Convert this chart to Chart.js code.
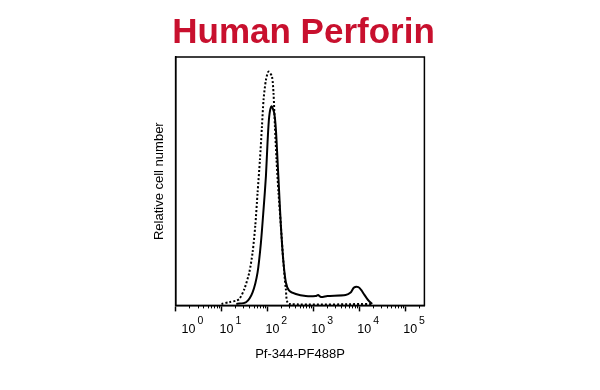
<!DOCTYPE html>
<html>
<head>
<meta charset="utf-8">
<script src="https://cdn.jsdelivr.net/npm/chart.js@4"></script>
<style>
  html, body { margin: 0; padding: 0; background: #fff; }
  #wrap { width: 600px; height: 390px; }
</style>
</head>
<body>
<div id="wrap"><canvas id="graph"></canvas></div>
<script>
// isotype control (dotted)
const controlX = [10.0, 14.8, 20.7, 24.5, 31.4, 40.3, 47.5, 54.3, 61.0, 68.7, 76.0, 82.3, 92.7, 105.7,
  125.3, 135.6, 145.5, 157.5, 174.1, 196.3, 220.3, 251.9, 297.2, 19000];
const controlY = [0, 0.7, 1.3, 2.0, 6.0, 12.8, 20.8, 31.6, 45.0, 58.5, 71.9, 82.7, 90.7, 94.1,
  92.1, 85.4, 71.9, 58.5, 45.0, 31.6, 18.1, 6.0, 0, 0];

// perforin stained (solid)
const perforinX = [21.0, 34.2, 47.5, 61.0, 72.2, 82.3, 92.7, 100.4, 109.3, 122.7, 140.5, 152.9, 165.6,
  180.3, 196.3, 220.3, 251.9, 297.2, 415, 684, 1127, 1265, 1469, 2014, 5047, 6474, 7638, 9572,
  11117, 12590, 16150, 19050];
const perforinY = [0, 0.7, 4.7, 12.8, 24.9, 38.3, 51.7, 65.2, 75.9, 80.0, 77.3, 70.6, 58.5,
  45.0, 31.6, 18.1, 8.8, 5.4, 4.0, 3.2, 3.2, 3.6, 2.8, 3.2, 3.6, 4.6, 6.6, 6.8,
  5.6, 4.0, 1.2, 0];

const tickValues = [1, 10, 100, 1000, 10000, 100000];
const tickBase = '10';
const tickExp = ['0', '1', '2', '3', '4', '5'];

const font = '"Liberation Sans", Arial, sans-serif';

// frame box, minor log ticks and 10^n labels
const frame = {
  id: 'frame',
  afterDraw(chart) {
    const { ctx, chartArea: a, scales } = chart;
    const xs = scales.x;
    ctx.save();
    ctx.strokeStyle = '#000';
    ctx.lineWidth = 1.5;
    ctx.strokeRect(a.left, a.top, a.right - a.left, a.bottom - a.top);

    ctx.lineWidth = 1;
    ctx.beginPath();
    for (let d = 0; d <= 5; d++) {
      for (let m = 2; m <= 9; m++) {
        const v = m * Math.pow(10, d);
        if (v > xs.max) continue;
        const px = Math.round(xs.getPixelForValue(v)) + 0.5;
        ctx.moveTo(px, a.bottom);
        ctx.lineTo(px, a.bottom + 3);
      }
    }
    ctx.stroke();

    ctx.fillStyle = '#000';
    ctx.textAlign = 'left';
    ctx.textBaseline = 'alphabetic';
    tickValues.forEach((v, i) => {
      const px = xs.getPixelForValue(v);
      const x0 = Math.max(px - 2, a.left + 6);
      ctx.font = '12.5px ' + font;
      ctx.fillText(tickBase, x0, a.bottom + 28);
      const w = ctx.measureText(tickBase).width;
      ctx.font = '10.5px ' + font;
      ctx.fillText(tickExp[i], x0 + w + 2, a.bottom + 19);
    });
    ctx.restore();
  }
};

new Chart(document.getElementById('graph'), {
  type: 'line',
  data: {
    datasets: [
      {
        label: 'Control',
        data: controlX.map((x, i) => ({ x: x, y: controlY[i] })),
        borderColor: '#000',
        borderWidth: 2,
        borderDash: [2, 2],
        pointRadius: 0,
        tension: 0.25,
        fill: false
      },
      {
        label: 'Perforin',
        data: perforinX.map((x, i) => ({ x: x, y: perforinY[i] })),
        borderColor: '#000',
        borderWidth: 2,
        pointRadius: 0,
        tension: 0.25,
        fill: false
      }
    ]
  },
  options: {
    responsive: true,
    maintainAspectRatio: false,
    animation: false,
    layout: { padding: { left: 10, right: 3, top: 0, bottom: 28 } },
    plugins: {
      legend: { display: false },
      tooltip: { enabled: false },
      title: {
        display: true,
        text: 'Human Perforin',
        color: '#c8102e',
        font: { family: font, size: 35, weight: 'bold' },
        padding: { top: 12, bottom: 3 }
      }
    },
    scales: {
      x: {
        type: 'logarithmic',
        min: 1,
        max: 262144,
        afterBuildTicks: axis => { axis.ticks = tickValues.map(v => ({ value: v })); },
        ticks: { display: false },
        grid: { drawOnChartArea: false, drawTicks: true, tickLength: 6, tickColor: '#000', tickWidth: 1.5 },
        border: { display: true, color: '#000', width: 1.5 },
        title: {
          display: true,
          text: 'Pf-344-PF488P',
          color: '#000',
          font: { family: font, size: 13 },
          padding: { top: 35, bottom: 0 }
        }
      },
      y: {
        min: -0.6,
        max: 100,
        ticks: { display: false },
        grid: { display: false, drawTicks: false },
        border: { display: true, color: '#000', width: 1.5 },
        title: {
          display: true,
          text: 'Relative cell number',
          color: '#000',
          font: { family: font, size: 13 },
          padding: { top: 142, bottom: 8 }
        }
      },
      // empty right axis, only reserves the white margin
      y2: {
        position: 'right',
        display: true,
        ticks: { display: false },
        grid: { display: false, drawTicks: false },
        border: { display: false },
        title: { display: true, text: '', font: { family: font, size: 13 }, padding: { top: 0, bottom: 157 } }
      }
    }
  },
  plugins: [frame]
});
</script>
</body>
</html>
